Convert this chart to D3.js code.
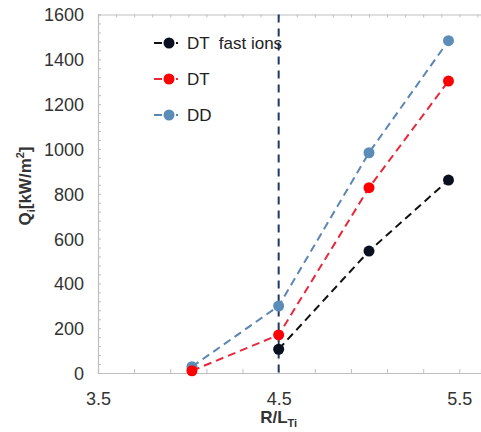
<!DOCTYPE html>
<html lang="en">
<head>
<meta charset="UTF-8">
<title>Qi vs R/LTi</title>
<script src="https://d3js.org/d3.v7.min.js"></script>
<style>
  body { margin: 0; background: #fff; font-family: "Liberation Sans", Arial, sans-serif; }
  .tick text { font-size: 18px; fill: #333; font-family: "Liberation Sans", Arial, sans-serif; }
  .frame path.domain { stroke: #bfbfbf; stroke-width: 1.2; }
  .frame .tick line { stroke: #bfbfbf; }
</style>
</head>
<body>
<div id="chart"></div>
<script>
// data
const xTicks = [3.5, 4.5, 5.5];
const yTicks = [0, 200, 400, 600, 800, 1000, 1200, 1400, 1600];
const xDD = [4.02, 4.5, 5.0, 5.44];
const qDD = [28, 299, 983, 1483];
const xDT = [4.02, 4.5, 5.0, 5.44];
const qDT = [10, 170, 827, 1303];
const xFast = [4.5, 5.0, 5.44];
const qFast = [106, 544, 861];
const markerX = 4.5;

const series = [
  { name: "DT  fast ions", xs: xFast, ys: qFast, line: "#111", fill: "#0b1020" },
  { name: "DT", xs: xDT, ys: qDT, line: "#e8283a", fill: "#ff0000" },
  { name: "DD", xs: xDD, ys: qDD, line: "#5b86b3", fill: "#5b8db8" }
];
// drawing order: DD behind, then DT, then fast ions on top
const drawOrder = [series[2], series[1], series[0]];

const W = 481, H = 432;
const m = { left: 98, right: 481, top: 14.5, bottom: 373 };

const svg = d3.select("#chart").append("svg")
  .attr("width", W).attr("height", H);

const x = d3.scaleLinear().domain([3.5, 5.62]).range([m.left, m.right]);
const y = d3.scaleLinear().domain([0, 1600]).range([m.bottom, m.top]);

// minor tick marks
svg.append("g").attr("class", "frame")
  .attr("transform", `translate(0,${m.bottom})`)
  .call(d3.axisBottom(x).tickValues(d3.range(3.5, 5.62, 0.2)).tickSize(-4).tickFormat(""));
svg.append("g").attr("class", "frame")
  .attr("transform", `translate(0,${m.top})`)
  .call(d3.axisTop(x).tickValues(d3.range(3.5, 5.62, 0.1)).tickSize(-3).tickFormat(""));
svg.append("g").attr("class", "frame")
  .attr("transform", `translate(${m.left},0)`)
  .call(d3.axisLeft(y).tickValues(d3.range(0, 1601, 40)).tickSize(-3).tickFormat(""));

// tick labels
const yAx = svg.append("g")
  .attr("transform", `translate(${m.left - 14},0)`)
  .call(d3.axisLeft(y).tickValues(yTicks).tickSize(0).tickFormat(d3.format("d")));
yAx.select(".domain").remove();
yAx.selectAll("text").attr("dy", "0.36em").attr("x", 0);

const xAx = svg.append("g")
  .attr("transform", `translate(0,${m.bottom + 16})`)
  .call(d3.axisBottom(x).tickValues(xTicks).tickSize(0).tickFormat(d3.format(".1f")));
xAx.select(".domain").remove();
xAx.selectAll("text").attr("dy", "0.7em");

// vertical reference line
svg.append("line")
  .attr("x1", x(markerX)).attr("x2", x(markerX))
  .attr("y1", m.top).attr("y2", m.bottom)
  .attr("stroke", "#1f3864").attr("stroke-width", 2)
  .attr("stroke-dasharray", "8,6");

const line = d3.line().x(d => x(d[0])).y(d => y(d[1]));

drawOrder.forEach(s => {
  const pts = s.xs.map((v, i) => [v, s.ys[i]]);
  svg.append("path")
    .attr("d", line(pts))
    .attr("fill", "none")
    .attr("stroke", s.line)
    .attr("stroke-width", 2)
    .attr("stroke-dasharray", "8,5");
  svg.selectAll(null).data(pts).enter().append("circle")
    .attr("cx", d => x(d[0])).attr("cy", d => y(d[1]))
    .attr("r", 5.5)
    .attr("fill", s.fill);
});

// legend
const legend = svg.append("g");
series.forEach((s, i) => {
  const ly = 43 + i * 36;
  legend.append("line")
    .attr("x1", 154).attr("x2", 178).attr("y1", ly).attr("y2", ly)
    .attr("stroke", s.line).attr("stroke-width", 2)
    .attr("stroke-dasharray", "8,3");
  legend.append("circle").attr("cx", 169).attr("cy", ly).attr("r", 5.5).attr("fill", s.fill);
  legend.append("text")
    .attr("x", 187).attr("y", ly).attr("dy", "0.36em")
    .attr("font-size", 17).attr("fill", "#222")
    .attr("xml:space", "preserve")
    .text(s.name);
});

// axis titles
const xt = svg.append("text")
  .attr("x", x(4.5)).attr("y", 423)
  .attr("text-anchor", "middle")
  .attr("font-size", 17).attr("font-weight", "bold").attr("fill", "#333");
xt.append("tspan").text("R/L");
xt.append("tspan").attr("font-size", 11).attr("dy", 4).text("Ti");

const yt = svg.append("text")
  .attr("transform", "translate(31,186) rotate(-90)")
  .attr("text-anchor", "middle")
  .attr("font-size", 17).attr("font-weight", "bold").attr("fill", "#333");
yt.append("tspan").text("Q");
yt.append("tspan").attr("font-size", 11).attr("dy", 4).text("i");
yt.append("tspan").attr("dy", -4).text("[kW/m");
yt.append("tspan").attr("font-size", 11).attr("dy", -7).text("2");
yt.append("tspan").attr("dy", 7).text("]");
</script>
</body>
</html>
